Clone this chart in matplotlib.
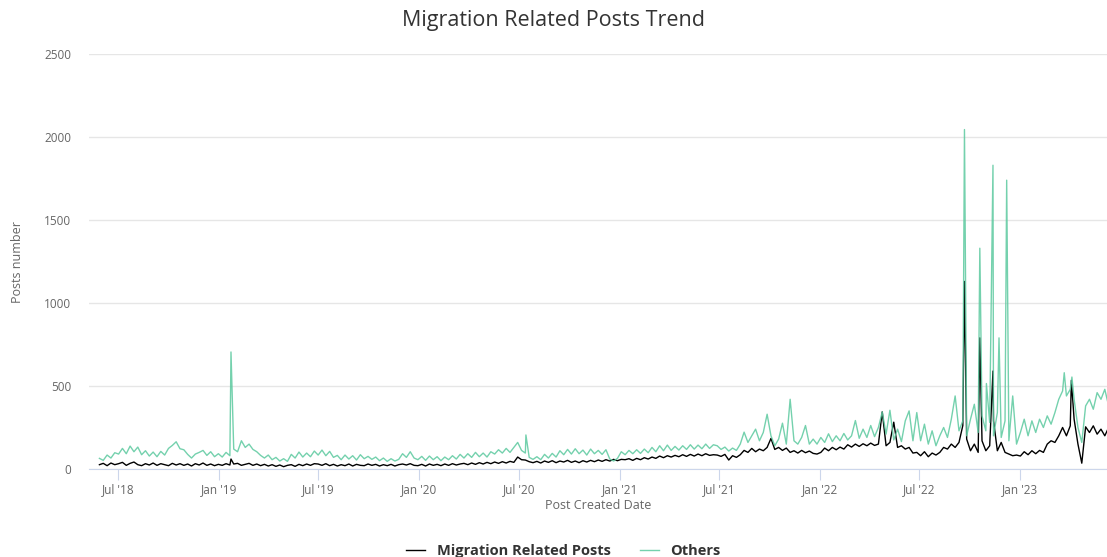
import numpy as np
import pandas as pd
import matplotlib
matplotlib.use('Agg')
import matplotlib.pyplot as plt

plt.rcParams['font.family'] = ['Open Sans', 'DejaVu Sans']

# weekly readings (Mondays), starting 2018-05-28
start = '2018-05-28'

others_h1_18 = [64, 52, 84, 66, 98]
others_h2_18 = [90, 124, 92, 138, 104, 132, 86, 110, 78, 102, 74, 106, 84, 124, 142, 164, 122, 116, 88, 66, 90, 100, 112, 82, 104, 74]
others_h1_19 = [92, 72, 100, 80, 120, 104, 170, 130, 150, 118, 104, 82, 66, 84, 56, 70, 48, 62, 46, 88, 66, 102, 72, 96, 74, 108]
others_h2_19 = [84, 114, 80, 106, 70, 82, 56, 84, 60, 80, 54, 86, 62, 76, 58, 72, 50, 66, 46, 62, 48, 58, 92, 70, 104, 66]
others_h1_20 = [56, 76, 52, 78, 56, 74, 50, 72, 56, 80, 60, 88, 66, 92, 70, 100, 74, 96, 72, 104, 90, 116, 96, 124, 100, 130]
others_h2_20 = [160, 112, 96, 70, 58, 74, 56, 88, 66, 94, 72, 110, 86, 118, 90, 122, 92, 114, 84, 120, 92, 112, 88, 116, 60, 48]
others_h1_21 = [64, 104, 86, 112, 92, 116, 94, 120, 98, 130, 104, 140, 110, 144, 112, 136, 114, 140, 118, 146, 120, 144, 122, 150, 124, 146]
others_h2_21 = [140, 118, 132, 108, 126, 112, 150, 222, 160, 200, 240, 170, 220, 330, 200, 140, 180, 276, 150, 420, 170, 150, 190, 262, 150, 180]
others_h1_22 = [150, 190, 160, 212, 165, 200, 170, 214, 175, 200, 292, 185, 240, 190, 262, 195, 250, 344, 210, 354, 175, 240, 165, 290, 350, 170]
others_h2_22 = [340, 170, 270, 150, 230, 140, 200, 250, 190, 300, 440, 230, 290, 200, 300, 390, 220, 320, 230, 280, 200, 340, 190, 290, 170, 440]
others_h1_23 = [150, 220, 300, 200, 290, 220, 300, 250, 320, 270, 340, 420, 470, 440, 480, 420, 250, 160, 380, 420, 360, 460, 420, 480, 380]

migr_h1_18 = [26, 34, 20, 36, 26]
migr_h2_18 = [32, 40, 22, 34, 42, 26, 20, 32, 24, 36, 22, 32, 26, 20, 34, 24, 32, 22, 30, 18, 32, 24, 36, 22, 30, 20]
migr_h1_19 = [28, 22, 32, 24, 30, 34, 22, 28, 34, 22, 30, 20, 28, 18, 26, 16, 24, 14, 22, 26, 16, 28, 20, 30, 22, 32]
migr_h2_19 = [30, 22, 32, 20, 28, 18, 26, 20, 30, 18, 28, 22, 20, 30, 22, 28, 18, 26, 20, 28, 18, 26, 30, 24, 32, 22]
migr_h1_20 = [20, 28, 18, 30, 22, 28, 20, 30, 22, 32, 24, 30, 34, 26, 36, 28, 38, 30, 40, 32, 42, 34, 44, 36, 46, 40]
migr_h2_20 = [72, 56, 54, 44, 38, 46, 36, 48, 40, 50, 38, 48, 42, 52, 40, 48, 38, 50, 42, 52, 44, 54, 46, 56, 48, 58]
migr_h1_21 = [50, 58, 56, 62, 52, 64, 56, 68, 60, 72, 64, 78, 68, 80, 72, 82, 74, 86, 76, 88, 78, 90, 80, 92, 82, 86]
migr_h2_21 = [84, 76, 88, 54, 80, 70, 86, 112, 100, 124, 104, 120, 110, 130, 184, 118, 130, 112, 126, 100, 110, 96, 112, 98, 108, 94]
migr_h1_22 = [90, 100, 126, 110, 130, 116, 132, 120, 146, 132, 150, 136, 152, 140, 156, 142, 150, 344, 140, 160, 282, 130, 140, 120, 130, 96]
migr_h2_22 = [100, 80, 104, 74, 96, 84, 100, 130, 120, 150, 130, 160, 262, 180, 110, 150, 100, 170, 110, 140, 290, 110, 160, 100, 90, 80]
migr_h1_23 = [84, 78, 104, 86, 110, 92, 112, 100, 150, 170, 160, 200, 250, 200, 260, 300, 150, 35, 254, 220, 260, 210, 240, 200, 250]

# single-day spikes
others_spike_dates = ['2019-01-23', '2020-07-14', '2022-09-22', '2022-10-20', '2022-11-01',
                      '2022-11-13', '2022-11-24', '2022-12-08', '2023-03-23', '2023-04-06']
others_spike_vals = [705, 205, 2045, 1330, 515, 1830, 790, 1740, 580, 554]
migr_spike_dates = ['2019-01-23', '2022-09-22', '2022-10-20', '2022-11-13', '2023-04-05']
migr_spike_vals = [60, 1130, 790, 590, 534]

tick_dates = pd.date_range('2018-07-01', '2023-01-01', freq='6MS')
tick_labels = [d.strftime("%b '%y") for d in tick_dates]


def build(parts, sdates, svals):
    vals = sum(parts, [])
    s = pd.Series(vals, index=pd.date_range(start, periods=len(vals), freq='7D'))
    sp = pd.Series(svals, index=pd.to_datetime(sdates))
    return pd.concat([s, sp]).sort_index()


others = build([others_h1_18, others_h2_18, others_h1_19, others_h2_19, others_h1_20, others_h2_20,
                others_h1_21, others_h2_21, others_h1_22, others_h2_22, others_h1_23],
               others_spike_dates, others_spike_vals)
migr = build([migr_h1_18, migr_h2_18, migr_h1_19, migr_h2_19, migr_h1_20, migr_h2_20,
              migr_h1_21, migr_h2_21, migr_h1_22, migr_h2_22, migr_h1_23],
             migr_spike_dates, migr_spike_vals)

fig = plt.figure(figsize=(11.07, 5.57), dpi=100)
ax = fig.add_axes([0.0804, 0.158, 0.9196, 0.745])

ax.plot(migr.index, migr.values, color='black', lw=1.0, label='Migration Related Posts')
ax.plot(others.index, others.values, color='#5cc99f', lw=1.0, alpha=0.85, label='Others')

ax.set_ylim(0, 2500)
ax.set_yticks([0, 500, 1000, 1500, 2000, 2500])
ax.set_xlim(pd.Timestamp('2018-05-09'), pd.Timestamp('2023-06-09'))
ax.set_xticks(tick_dates)
ax.set_xticklabels(tick_labels)

ax.grid(axis='y', color='#e6e6e6', lw=1)
ax.set_axisbelow(True)
for s in ['top', 'right', 'left']:
    ax.spines[s].set_visible(False)
ax.spines['bottom'].set_color('#ccd6eb')
ax.tick_params(axis='y', length=0, pad=13, labelsize=8.5, labelcolor='#666666')
ax.tick_params(axis='x', length=8, color='#ccd6eb', labelsize=8.5, labelcolor='#666666', pad=2)

ax.set_xlabel('Post Created Date', fontsize=9, color='#666666', labelpad=2)
ax.set_ylabel('Posts number', fontsize=9, color='#666666', labelpad=14)
fig.suptitle('Migration Related Posts Trend', fontsize=15.5, color='#333333', y=0.982)

leg = fig.legend(loc='lower center', bbox_to_anchor=(0.509, -0.025), ncol=2, frameon=False,
                 prop={'weight': 'bold', 'size': 10.5}, handlelength=1.3, columnspacing=2.0)
for t in leg.get_texts():
    t.set_color('#333333')

fig.savefig('out.png', dpi=100)
